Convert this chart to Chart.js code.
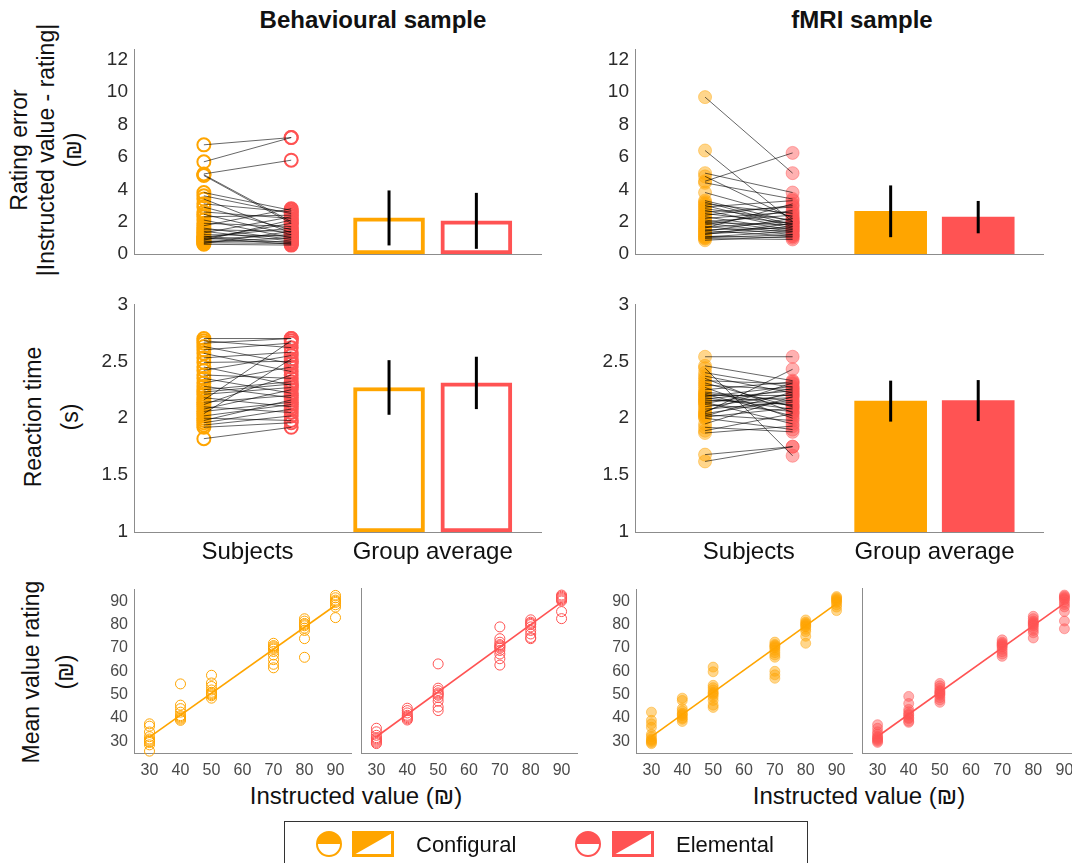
<!DOCTYPE html>
<html>
<head>
<meta charset="utf-8">
<title>Rating error, reaction time and value ratings</title>
<script src="https://cdn.jsdelivr.net/npm/chart.js@4.4.1/dist/chart.umd.min.js"></script>
<style>
  html, body { margin: 0; padding: 0; background: #fff; overflow: hidden; }
  #page { position: relative; width: 1072px; height: 863px; overflow: hidden;
          font-family: "Liberation Sans", Arial, sans-serif; color: #111; }
  #page canvas { position: absolute; }
  .txt { position: absolute; white-space: nowrap; font-size: 23px; line-height: 1; }
  .title { font-weight: bold; font-size: 24px; transform: translate(-50%, -50%); }
  .vert { transform: translate(-50%, -50%) rotate(-90deg); }
  .xlab { transform: translate(-50%, -50%); font-size: 24px; }
  .leg { font-size: 22px; transform: translateY(-50%); }
  #legendBox { position: absolute; left: 284px; top: 821px; width: 522px; height: 60px;
               border: 1.5px solid #333; }
</style>
</head>
<body>
<div id="page">
  <div class="txt title" style="left:373px;top:20px">Behavioural sample</div>
  <div class="txt title" style="left:862px;top:20px">fMRI sample</div>

  <div class="txt vert" style="left:19px;top:150px">Rating error</div>
  <div class="txt vert" style="left:46px;top:150px">|Instructed value - rating|</div>
  <div class="txt vert" style="left:73px;top:150px">(₪)</div>

  <div class="txt vert" style="left:33px;top:417px">Reaction time</div>
  <div class="txt vert" style="left:70px;top:417px">(s)</div>

  <div class="txt vert" style="left:31px;top:672px">Mean value rating</div>
  <div class="txt vert" style="left:65px;top:672px">(₪)</div>

  <div class="txt xlab" style="left:356px;top:796px">Instructed value (₪)</div>
  <div class="txt xlab" style="left:859px;top:796px">Instructed value (₪)</div>

  <div id="legendBox"></div>
  <canvas id="legendMarks" width="360" height="40" style="left:300px;top:824px"></canvas>
  <div class="txt leg" style="left:416px;top:845px">Configural</div>
  <div class="txt leg" style="left:676px;top:845px">Elemental</div>
</div>

<script>
// ---- data ----
// rating error |instructed - rating| per subject
const behErrConf = [6.75, 5.7, 4.95, 4.9, 4.85, 3.8, 3.6, 3.4, 3.1, 2.9, 2.6, 2.45, 2.3, 2.1, 1.9, 1.75,
                    1.6, 1.5, 1.4, 1.3, 1.2, 1.1, 1.05, 1.0, 0.95, 0.9, 0.85, 0.8, 0.75, 0.7, 0.65, 0.6];
const behErrElem = [7.2, 7.2, 5.8, 2.0, 1.9, 2.7, 2.5, 1.3, 2.6, 1.5, 2.2, 1.2, 2.4, 1.0, 1.7, 2.8,
                    0.9, 1.4, 0.8, 2.3, 1.1, 0.7, 1.6, 0.6, 1.9, 1.2, 2.1, 0.75, 1.0, 0.65, 1.4, 0.55];
const fmriErrConf = [9.7, 6.4, 5.0, 4.8, 4.5, 4.4, 3.8, 3.3, 3.2, 3.1, 3.0, 2.9, 2.8, 2.7, 2.6, 2.5, 2.4, 2.3, 2.2,
                     2.1, 2.0, 1.95, 1.9, 1.8, 1.7, 1.65, 1.6, 1.5, 1.45, 1.4, 1.3, 1.25, 1.2, 1.1, 1.05, 1.0, 0.95, 0.85];
const fmriErrElem = [5.0, 2.0, 3.8, 2.2, 6.25, 3.4, 2.3, 2.0, 1.8, 2.5, 1.7, 3.3, 2.1, 1.6, 2.9, 1.9, 3.0, 1.5, 2.6,
                     1.4, 2.4, 1.8, 1.3, 2.7, 1.2, 2.0, 3.1, 1.6, 1.1, 2.2, 1.7, 1.5, 1.9, 1.0, 1.4, 1.2, 0.9, 1.1];

// reaction times (s) per subject
const behRtConf = [2.70, 2.68, 2.66, 2.63, 2.60, 2.57, 2.53, 2.49, 2.45, 2.42, 2.38, 2.35, 2.31, 2.28, 2.25, 2.23,
                   2.21, 2.18, 2.16, 2.14, 2.12, 2.10, 2.08, 2.06, 2.04, 2.02, 2.00, 1.98, 1.96, 1.94, 1.92, 1.82];
const behRtElem = [2.70, 2.62, 2.70, 2.48, 2.66, 2.41, 2.58, 2.50, 2.29, 2.55, 2.35, 2.22, 2.45, 2.18, 2.32, 2.30,
                   2.27, 2.10, 2.68, 2.20, 2.38, 2.05, 2.25, 2.14, 2.52, 2.12, 1.98, 2.16, 2.08, 2.02, 1.96, 1.92];
const fmriRtConf = [2.54, 2.46, 2.44, 2.40, 2.37, 2.35, 2.33, 2.31, 2.29, 2.27, 2.25, 2.23, 2.22, 2.21, 2.20, 2.19, 2.18, 2.17, 2.16,
                    2.15, 2.14, 2.13, 2.12, 2.10, 2.08, 2.06, 2.05, 2.04, 2.03, 2.02, 2.01, 2.00, 1.95, 1.92, 1.89, 1.87, 1.68, 1.62];
const fmriRtElem = [2.54, 2.33, 1.67, 2.27, 2.22, 2.05, 2.30, 2.10, 2.25, 2.00, 2.32, 2.15, 2.11, 2.02, 2.20, 2.28, 2.08, 2.24, 2.12,
                    2.18, 1.95, 2.26, 2.06, 2.21, 2.14, 2.31, 2.43, 2.16, 1.98, 2.23, 2.09, 1.90, 2.19, 1.88, 2.04, 1.93, 1.75, 1.75];

// group averages [configural, elemental] and SD
const behErrMean = [2.23, 2.05], behErrSd = [1.70, 1.73];
const fmriErrMean = [2.64, 2.28], fmriErrSd = [1.60, 1.00];
const behRtMean = [2.27, 2.31], behRtSd = [0.24, 0.23];
const fmriRtMean = [2.15, 2.155], fmriRtSd = [0.18, 0.18];

// value ratings per instructed value
const instructed = [30, 40, 50, 70, 80, 90];
const behConfRatings = [
  [37.5, 36.5, 34, 32, 31, 30.5, 30, 29.5, 28.5, 25.8],
  [54.6, 45.5, 44, 42.5, 41, 40.5, 40, 39.5, 39],
  [58.3, 55, 53.5, 52, 51, 50.5, 50, 49.5, 48.5],
  [72, 71, 70.5, 70, 69.5, 68.5, 67, 65, 63, 61.5],
  [82.5, 81.5, 80.5, 80, 79.5, 78.5, 77.5, 74, 66],
  [92.5, 91.5, 90.5, 90, 89.5, 88.5, 87.5, 83]
];
const behElemRatings = [
  [35.5, 34, 32.5, 31.5, 31, 30.5, 30, 29.5, 29],
  [44, 43, 42, 41, 40.5, 40, 39.5, 39],
  [62.8, 52.5, 51.5, 50.5, 50, 49.5, 48.5, 47, 44.5, 43],
  [78.5, 73.5, 72, 71, 70.5, 70, 69.5, 68.5, 67, 65, 62.3],
  [81.5, 80.5, 80, 79.5, 78.5, 77, 75.5, 74, 73.5],
  [92, 91.5, 91, 90.5, 90, 89.5, 85, 82]
];
const fmriConfRatings = [
  [42.5, 39, 37.5, 36, 33, 32, 31, 30.5, 30, 29.5, 29],
  [48.5, 47.5, 44, 43, 42, 41.5, 41, 40, 39.5, 38.5],
  [61.8, 59.8, 54, 53, 52, 51, 50.5, 50, 49, 47.5, 45.5, 44.5],
  [72.5, 71.5, 71, 70.5, 70, 69, 68, 67, 66, 60, 58.5, 57],
  [82, 81, 80.5, 80, 79.5, 79, 78, 77, 75, 72],
  [92, 91.5, 91, 90.5, 90, 89.5, 88.5, 87.5, 86]
];
const fmriElemRatings = [
  [37, 35.5, 34, 33, 32, 31.5, 31, 30.5, 30, 29.5],
  [49, 46, 43.5, 42.5, 41.5, 41, 40, 39.5, 38.5, 38],
  [54.5, 53.5, 52.5, 51.5, 51, 50.5, 50, 49.5, 48.5, 47.5, 46.5],
  [73, 72, 71.5, 71, 70.5, 70, 69, 68, 67, 66],
  [83, 82, 81, 80.5, 80, 79.5, 79, 78, 77, 76, 73.8],
  [92, 91.5, 91, 90.5, 90, 89, 88, 87, 85, 81, 77.7]
];
// least-squares lines, value at instructed 30 and 90
const fitX = [30, 90];
const behConfFit = [31.8, 88.3];
const behElemFit = [31.9, 89.0];
const fmriConfFit = [32.0, 89.0];
const fmriElemFit = [32.0, 88.5];

const errTicks = [0, 2, 4, 6, 8, 10, 12];
const rtTicks = [1, 1.5, 2, 2.5, 3];
const ratingTicks = [30, 40, 50, 60, 70, 80, 90];
const catTicks = [1.5, 3.62];
const catLabels = ['Subjects', 'Group average'];
const barX = [3.12, 4.12];

// ---- styling ----
const ORANGE = 'rgb(255,165,0)';
const RED = 'rgb(255,83,83)';
const AXIS = '#8c8c8c';
const fade = (c, a) => c.replace('rgb(', 'rgba(').replace(')', ',' + a + ')');

Chart.defaults.font.family = '"Liberation Sans", Arial, sans-serif';
Chart.defaults.color = '#262626';
Chart.defaults.animation = false;
Chart.defaults.plugins.legend.display = false;
Chart.defaults.plugins.tooltip.enabled = false;

// vertical mean ± SD lines on the group bars
const errorBars = {
  id: 'errorBars',
  afterDatasetsDraw(chart, args, opts) {
    if (!opts.mean) return;
    const {ctx, scales: {x, y}} = chart;
    ctx.save();
    ctx.strokeStyle = '#000';
    ctx.lineWidth = 3;
    opts.mean.forEach((m, i) => {
      const px = x.getPixelForValue(barX[i]);
      ctx.beginPath();
      ctx.moveTo(px, y.getPixelForValue(m - opts.sd[i]));
      ctx.lineTo(px, y.getPixelForValue(m + opts.sd[i]));
      ctx.stroke();
    });
    ctx.restore();
  }
};

const page = document.getElementById('page');
const PAD = {l: 60, t: 14, r: 16, b: 46};

// place a chart so its plot area lands on [left, top, right, bottom]
function place(area, config) {
  const c = document.createElement('canvas');
  c.width = area[2] - area[0] + PAD.l + PAD.r;
  c.height = area[3] - area[1] + PAD.t + PAD.b;
  c.style.left = (area[0] - PAD.l) + 'px';
  c.style.top = (area[1] - PAD.t) + 'px';
  page.appendChild(c);
  const o = config.options;
  o.responsive = false;
  o.devicePixelRatio = 1;
  o.layout = {autoPadding: false, padding: {left: 0, top: PAD.t, right: PAD.r, bottom: 0}};
  o.scales.x.afterFit = s => { s.height = PAD.b; };
  o.scales.y.afterFit = s => { s.width = PAD.l; };
  return new Chart(c, config);
}

function axis(min, max, ticks, tickOpts) {
  return {
    type: 'linear', min: min, max: max, offset: false,
    grid: {display: false, drawTicks: false},
    border: {color: AXIS, width: 1},
    afterBuildTicks: s => { s.ticks = ticks.map(v => ({value: v})); },
    ticks: Object.assign({padding: 6, autoSkip: false, maxRotation: 0, minRotation: 0,
                          font: {size: 19}, color: '#2b2b2b', callback: v => String(v)}, tickOpts)
  };
}

function pairedPanel(area, conf, elem, mean, sd, yMin, yMax, yTicks, filled, showCats, barW) {
  const links = [];
  conf.forEach((v, i) => { links.push({x: 1, y: v}, {x: 2, y: elem[i]}, {x: 1.5, y: null}); });
  const dots = (vals, xPos, col) => ({
    type: 'line', showLine: false, clip: false, order: 1,
    data: vals.map(v => ({x: xPos, y: v})),
    pointRadius: 6.5, pointBorderWidth: filled ? 1 : 2,
    pointBorderColor: filled ? fade(col, 0.45) : col,
    pointBackgroundColor: filled ? fade(col, 0.45) : 'rgba(0,0,0,0)'
  });
  const bar = (i, col) => ({
    type: 'bar', order: 2, grouped: false, base: yMin, barThickness: barW,
    data: [{x: barX[i], y: mean[i]}],
    backgroundColor: filled ? col : '#fff', borderColor: col,
    borderWidth: filled ? 0 : 4, borderSkipped: false
  });
  return place(area, {
    type: 'scatter',
    data: {datasets: [
      {type: 'line', data: links, borderColor: 'rgba(0,0,0,0.6)', borderWidth: 1,
       pointRadius: 0, spanGaps: false, order: 0, clip: false},
      dots(conf, 1, ORANGE),
      dots(elem, 2, RED),
      bar(0, ORANGE),
      bar(1, RED)
    ]},
    options: {
      plugins: {errorBars: {mean: mean, sd: sd}},
      scales: {
        x: axis(0.2, 4.86, catTicks, {display: showCats, padding: 6, font: {size: 24}, color: '#111',
                                     callback: v => catLabels[catTicks.indexOf(v)]}),
        y: axis(yMin, yMax, yTicks, {})
      }
    },
    plugins: [errorBars]
  });
}

function ratingPanel(area, ratings, fit, col, filled, showY) {
  const pts = [];
  instructed.forEach((iv, k) => ratings[k].forEach(r => pts.push({x: iv, y: r})));
  return place(area, {
    type: 'scatter',
    data: {datasets: [
      {type: 'line', data: fitX.map((x, i) => ({x: x, y: fit[i]})), borderColor: col,
       borderWidth: 1.6, pointRadius: 0, order: 0},
      {type: 'line', showLine: false, clip: false, order: 1, data: pts,
       pointRadius: 5, pointBorderWidth: 1,
       pointBorderColor: filled ? fade(col, 0.45) : col,
       pointBackgroundColor: filled ? fade(col, 0.45) : 'rgba(0,0,0,0)'}
    ]},
    options: {
      scales: {
        x: axis(25, 95, ratingTicks, {padding: 8, font: {size: 16}, color: '#4a4a4a'}),
        y: axis(25, 95, ratingTicks, {display: showY, padding: 6, font: {size: 16}, color: '#4a4a4a'})
      }
    }
  });
}

// row 1: rating error
pairedPanel([134, 46, 541, 254], behErrConf, behErrElem, behErrMean, behErrSd, 0, 12.65, errTicks, false, false, 71);
pairedPanel([635, 46, 1043, 254], fmriErrConf, fmriErrElem, fmriErrMean, fmriErrSd, 0, 12.65, errTicks, true, false, 72);
// row 2: reaction time
pairedPanel([134, 301, 541, 532], behRtConf, behRtElem, behRtMean, behRtSd, 1, 3, rtTicks, false, true, 71);
pairedPanel([635, 301, 1043, 532], fmriRtConf, fmriRtElem, fmriRtMean, fmriRtSd, 1, 3, rtTicks, true, true, 72);
// row 3: value ratings
ratingPanel([134, 588, 351, 753], behConfRatings, behConfFit, ORANGE, false, true);
ratingPanel([361, 588, 577, 753], behElemRatings, behElemFit, RED, false, false);
ratingPanel([636, 588, 852, 753], fmriConfRatings, fmriConfFit, ORANGE, true, true);
ratingPanel([862, 588, 1080, 753], fmriElemRatings, fmriElemFit, RED, true, false);

// legend marks: half-filled circle and half-filled bar swatch
(function () {
  const ctx = document.getElementById('legendMarks').getContext('2d');
  function marks(cx, sx, col) {
    ctx.fillStyle = col;
    ctx.beginPath();
    ctx.arc(cx, 20, 12, Math.PI, 2 * Math.PI);
    ctx.closePath();
    ctx.fill();
    ctx.beginPath();
    ctx.arc(cx, 20, 12, 0, 2 * Math.PI);
    ctx.lineWidth = 2;
    ctx.strokeStyle = col;
    ctx.stroke();
    ctx.beginPath();
    ctx.moveTo(sx, 8);
    ctx.lineTo(sx + 42, 8);
    ctx.lineTo(sx, 32);
    ctx.closePath();
    ctx.fill();
    ctx.lineWidth = 3;
    ctx.strokeRect(sx + 1.5, 8.5, 39, 23);
  }
  marks(29, 52, ORANGE);
  marks(288, 312, RED);
})();
</script>
</body>
</html>
